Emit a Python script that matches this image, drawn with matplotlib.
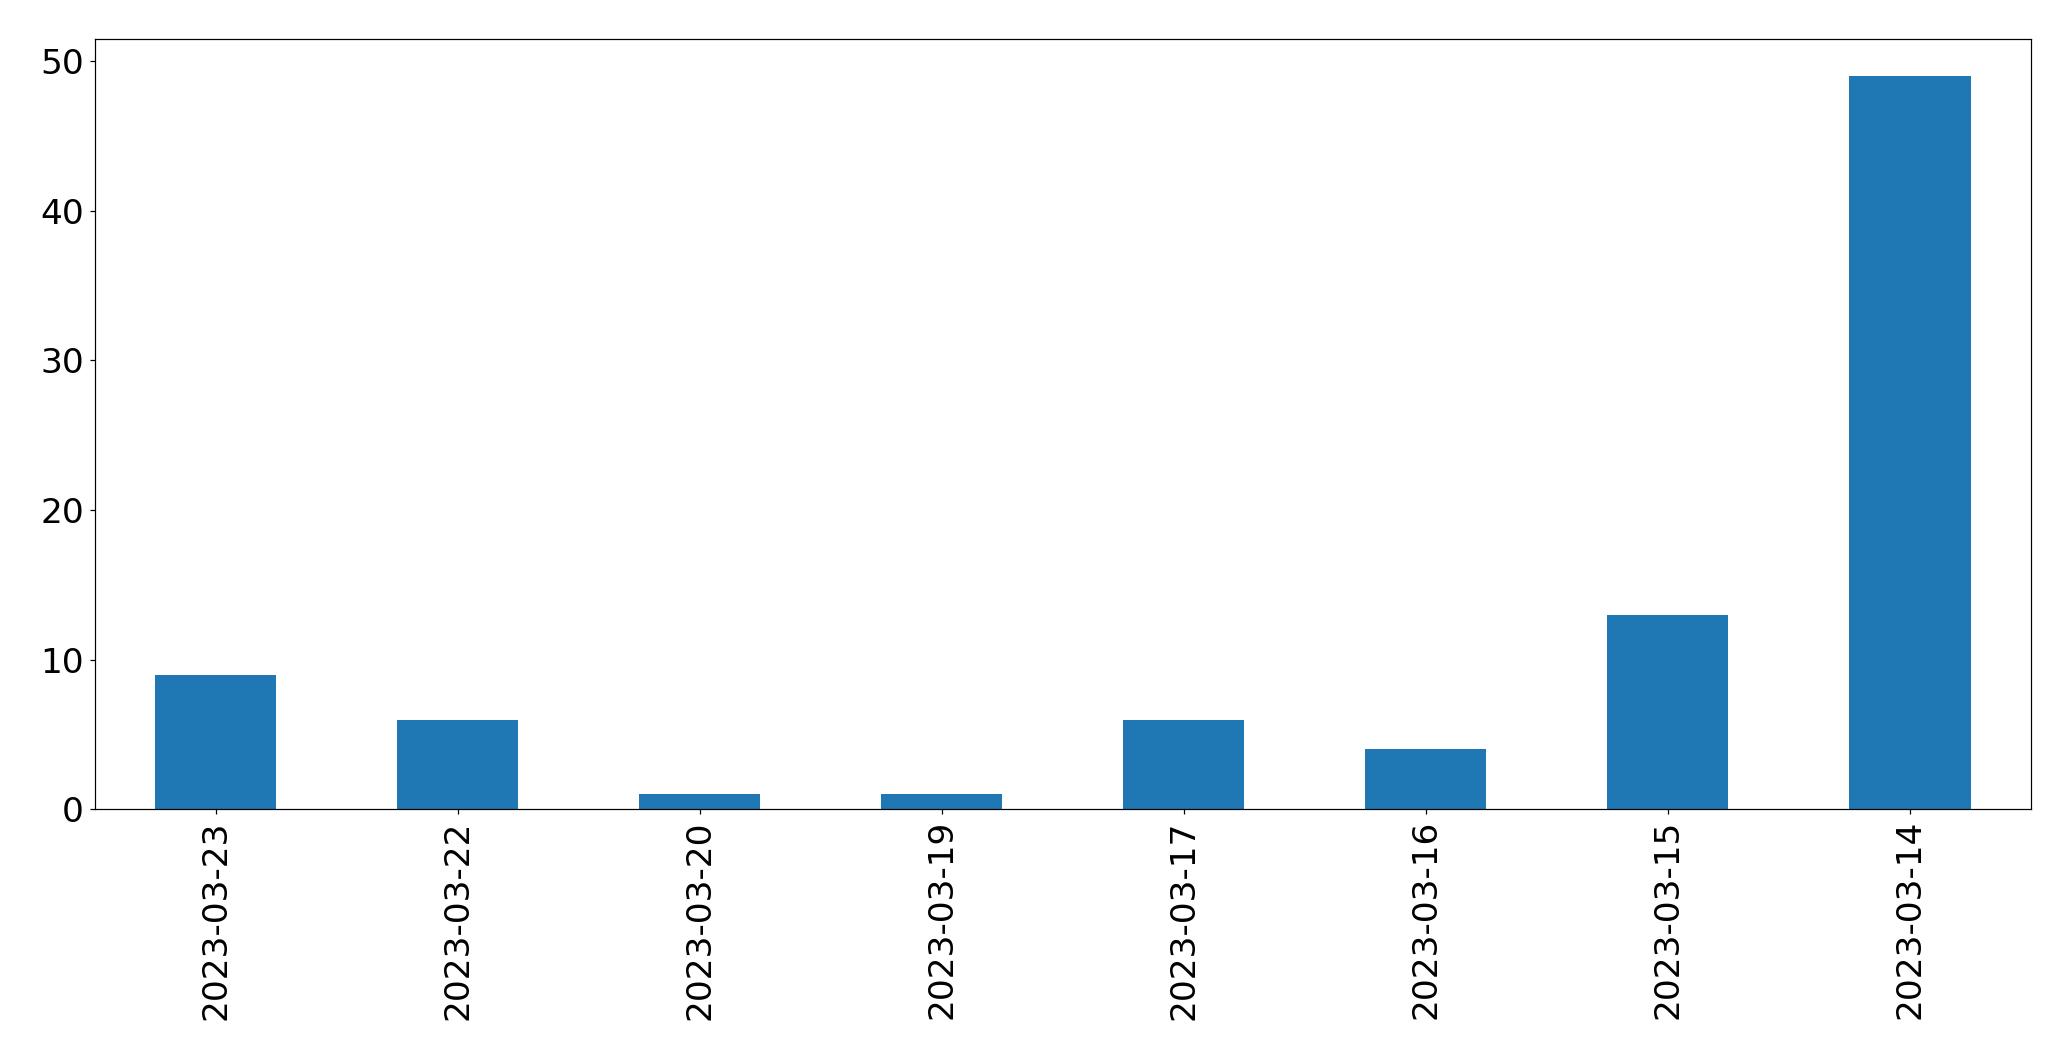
import matplotlib
matplotlib.use("Agg")
import matplotlib.pyplot as plt
import numpy as np

# counts per day (newest first, like the original value_counts order)
dates = ["2023-03-23", "2023-03-22", "2023-03-20", "2023-03-19",
         "2023-03-17", "2023-03-16", "2023-03-15", "2023-03-14"]
counts = [9, 6, 1, 1, 6, 4, 13, 49]

dpi = 110
fig = plt.figure(figsize=(2071 / dpi, 1061 / dpi), dpi=dpi)
ax = fig.add_axes([0.0457, 0.2372, 0.935, 0.7258])

x = np.arange(len(dates))
ax.bar(x, counts, width=0.5, color="#1f77b4")
ax.set_xlim(-0.5, len(dates) - 0.5)
ax.set_ylim(0, max(counts) * 1.05)
ax.set_xticks(x)
ax.set_xticklabels(dates, rotation=90)
ax.tick_params(labelsize=22.5)

fig.savefig("out.png", dpi=dpi)
